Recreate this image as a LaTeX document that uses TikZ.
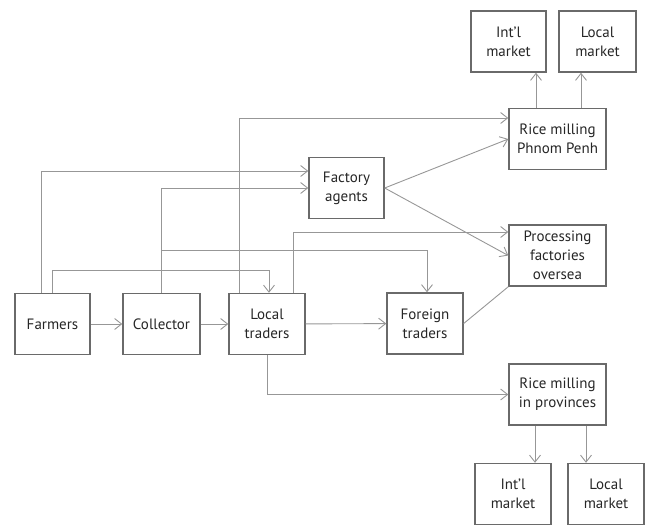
\documentclass[tikz,border=0pt]{standalone}
\usepackage{fontspec}
\setmainfont{PT Sans}
\usetikzlibrary{arrows.meta}
\definecolor{boxgray}{HTML}{6A6A6A}
\definecolor{linegray}{HTML}{979797}
\tikzset{
  box/.style={draw=boxgray,line width=1.4pt,minimum height=61pt,inner sep=0pt,align=center,text=black!85,font=\fontsize{15}{19}\selectfont},
  flow/.style={draw=linegray,line width=0.9pt,-{Straight Barb[length=7pt,width=11pt]}},
  plain/.style={draw=linegray,line width=0.9pt}
}
\begin{document}
\begin{tikzpicture}[x=1pt,y=-1pt]
\useasboundingbox (0,0) rectangle (650,525);

\node (farmers) at (52.5,324) [box,minimum width=75pt] {Farmers};
\node (collector) at (161.5,324) [box,minimum width=77pt] {Collector};
\node (traders) at (267,324) [box,minimum width=76pt] {Local\\traders};
\node (foreign) at (425,323.5) [box,minimum width=76pt] {Foreign\\traders};
\node (agents) at (346.5,188) [box,minimum width=75pt] {Factory\\agents};

\node (ricepp) at (557.5,139) [box,minimum width=97pt] {Rice milling\\Phnom Penh};
\node (process) at (557.5,255.5) [box,minimum width=97pt] {Processing\\factories\\oversea};
\node (riceprov) at (557.5,394.5) [box,minimum width=97pt] {Rice milling\\in provinces};

\node (intlA) at (508.5,41.5) [box,minimum width=75pt] {Int’l\\market};
\node (localA) at (597.5,41.5) [box,minimum width=77pt] {Local\\market};
\node (intlB) at (513,494) [box,minimum width=76pt] {Int’l\\market};
\node (localB) at (606,494) [box,minimum width=76pt] {Local\\market};

% main chain
\draw[flow] (farmers) -- (collector);
\draw[flow] (collector) -- (traders);
\draw[flow] (traders) -- (foreign);

\draw[flow] ([xshift=-11.5pt]farmers.north) |- ([yshift=17pt]agents.west);
\draw[flow] (farmers.north) -- ++(0,-22) -| ([xshift=2pt]traders.north);
\draw[flow] (collector.north) |- (agents.west);
\draw[flow] (collector.north) -- ++(0,-42) -| ([xshift=2pt]foreign.north);

\draw[flow] ([xshift=-28pt]traders.north) |- ([yshift=21pt]ricepp.west);
\draw[flow] ([xshift=26pt]traders.north) |- ([yshift=23.5pt]process.west);
\draw[flow] (traders.south) |- (riceprov.west);

\draw[flow] (agents.east) -- (ricepp.west);
\draw[flow] (agents.east) -- (process.west);
\draw[plain] (foreign.east) -- (process.south west);

% to markets
\draw[flow] ([xshift=-21.5pt]ricepp.north) -- ([xshift=-21.5pt]ricepp.north |- intlA.south);
\draw[flow] ([xshift=23.5pt]ricepp.north) -- ([xshift=23.5pt]ricepp.north |- localA.south);
\draw[flow] ([xshift=-22.5pt]riceprov.south) -- ([xshift=-22.5pt]riceprov.south |- intlB.north);
\draw[flow] ([xshift=28.5pt]riceprov.south) -- ([xshift=28.5pt]riceprov.south |- localB.north);

\end{tikzpicture}
\end{document}
